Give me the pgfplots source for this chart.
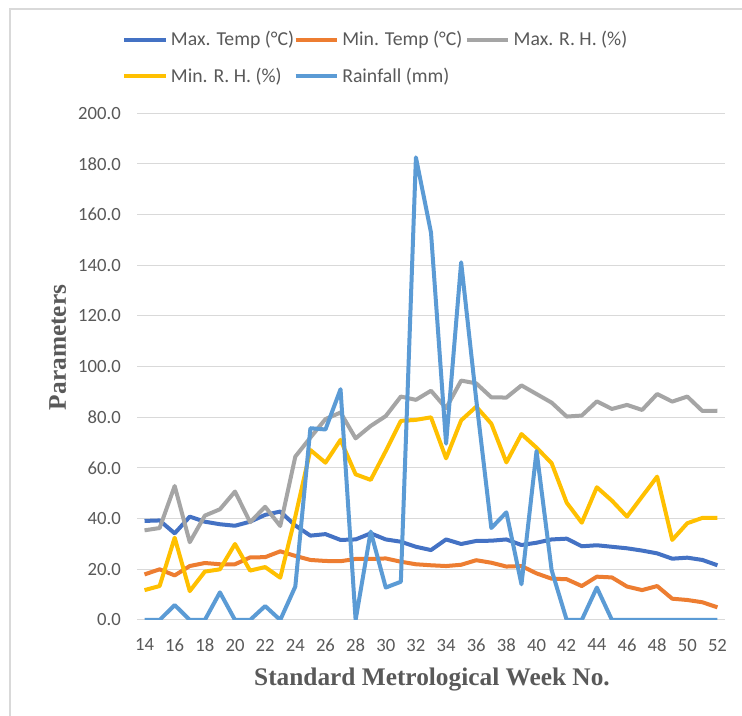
\documentclass[border=0pt]{standalone}
\usepackage{pgfplots}
\pgfplotsset{compat=1.18}
\usepackage{fontspec}
\setmainfont{Carlito}
\newfontfamily\titlefont{Liberation Serif}
\definecolor{cmaxt}{HTML}{4472C4}
\definecolor{cmint}{HTML}{ED7D31}
\definecolor{cmaxrh}{HTML}{A5A5A5}
\definecolor{cminrh}{HTML}{FFC000}
\definecolor{crain}{HTML}{5B9BD5}
\definecolor{gridc}{HTML}{D9D9D9}
\definecolor{tickc}{HTML}{595959}
\pgfplotstableread{
w maxt mint maxrh minrh rain
14 39.1 18.0 35.4 11.8 0
15 39.3 20.0 36.3 13.4 0
16 34.2 17.6 52.9 32.5 5.9
17 40.8 21.3 30.7 11.4 0
18 38.8 22.5 41.2 19.1 0
19 37.8 22.0 43.7 20.0 10.9
20 37.2 22.0 50.7 30.0 0
21 38.8 24.7 38.6 19.5 0
22 41.5 24.8 44.7 20.9 5.5
23 42.8 27.1 37.1 16.7 0
24 37.3 25.3 64.5 40.8 13.2
25 33.3 23.7 72.0 67.1 75.7
26 33.9 23.3 79.3 62.1 75.2
27 31.6 23.2 81.9 71.1 91.1
28 31.8 24.1 71.7 57.5 0
29 34.2 24.1 76.6 55.3 34.9
30 31.8 24.3 80.5 66.7 12.8
31 30.9 23.0 88.2 78.6 15.1
32 28.9 22.0 86.9 79.0 182.6
33 27.6 21.6 90.5 80.0 152.9
34 31.8 21.3 83.6 63.8 69.6
35 30.0 21.8 94.5 78.8 141.2
36 31.2 23.6 93.4 84.2 87.0
37 31.3 22.6 87.9 77.5 36.3
38 31.8 21.1 87.8 62.2 42.5
39 29.6 21.3 92.6 73.4 14.1
40 30.5 18.4 89.2 68.0 66.7
41 31.8 16.3 85.8 61.9 19.7
42 32.1 16.1 80.3 46.3 0
43 29.1 13.4 80.7 38.4 0
44 29.5 17.1 86.3 52.4 12.8
45 28.9 16.8 83.3 47.1 0
46 28.3 13.2 84.9 40.8 0
47 27.4 11.8 82.9 48.7 0
48 26.3 13.4 89.2 56.6 0
49 24.2 8.4 86.2 31.6 0
50 24.6 7.9 88.2 38.2 0
51 23.7 7.0 82.5 40.3 0
52 21.6 5.0 82.6 40.3 0
}\datatable
\begin{document}
\begin{tikzpicture}
\useasboundingbox (0,0) rectangle (556.5pt,537pt);
\fill[white] (0,0) rectangle (556.5pt,537pt);
\draw[gridc, line width=0.9pt] (7.5pt,0pt) -- (7.5pt,530.25pt) -- (556.5pt,530.25pt);
\begin{axis}[
  at={(102.75pt,72pt)}, anchor=south west,
  scale only axis, width=441pt, height=380pt,
  xmin=13.5, xmax=52.5, ymin=0, ymax=200,
  xtick={14,16,...,52}, ytick={0,20,...,200},
  axis line style={draw=none},
  tick style={draw=none},
  ymajorgrids, grid style={gridc, line width=0.75pt},
  /pgf/number format/assume math mode=true,
  tick label style={font=\fontsize{14}{16}\selectfont, text=tickc},
  y tick label style={/pgf/number format/fixed, /pgf/number format/fixed zerofill, /pgf/number format/precision=1, anchor=east, inner sep=0pt, xshift=-12pt},
  x tick label style={anchor=north, inner sep=0pt, yshift=-14pt},
  xlabel={Standard Metrological Week No.},
  ylabel={Parameters},
  xlabel style={at={(axis description cs:0.5017,-0.13)}, anchor=base, font=\titlefont\bfseries\fontsize{19}{22}\selectfont, text=tickc},
  ylabel style={at={(axis description cs:-0.121,0.538)}, anchor=base, font=\titlefont\bfseries\fontsize{19}{22}\selectfont, text=tickc},
  legend columns=3,
  legend style={at={(axis description cs:-0.025,1.162)}, anchor=north west, draw=none, fill=none, inner sep=0pt, outer sep=0pt,
    nodes={inner sep=0pt, anchor=base west, font=\fontsize{14.8}{17}\selectfont, text=tickc},
    row sep=15pt,
    /tikz/every odd column/.style={column sep=2.5pt},
    /tikz/every even column/.style={column sep=0pt}},
  legend image code/.code={\draw[#1, line width=3pt] (0pt,4.6pt) -- (31pt,4.6pt);},
  every axis plot/.append style={line width=3pt, line join=round, mark=none},
]
\addplot[cmaxt] table[x=w, y=maxt] {\datatable};
\addlegendentry{\makebox[92pt][l]{Max. Temp (°C)}}
\addplot[cmint] table[x=w, y=mint] {\datatable};
\addlegendentry{\makebox[92pt][l]{Min. Temp (°C)}}
\addplot[cmaxrh] table[x=w, y=maxrh] {\datatable};
\addlegendentry{\makebox[92pt][l]{Max. R. H. (\%)}}
\addplot[cminrh] table[x=w, y=minrh] {\datatable};
\addlegendentry{\makebox[92pt][l]{Min. R. H. (\%)}}
\addplot[crain] table[x=w, y=rain] {\datatable};
\addlegendentry{\makebox[92pt][l]{Rainfall (mm)}}
\end{axis}
\end{tikzpicture}
\end{document}
